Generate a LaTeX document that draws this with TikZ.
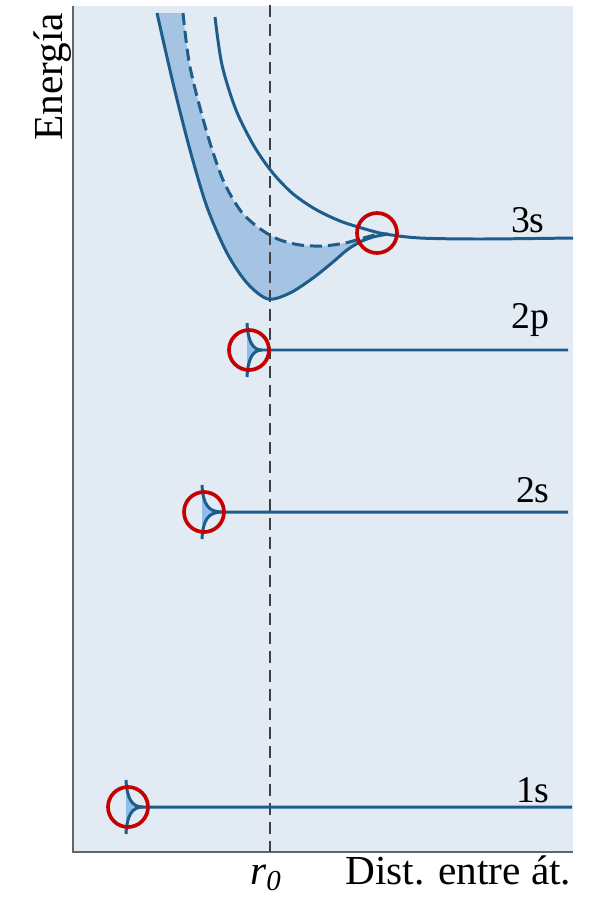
\documentclass[tikz,border=0pt]{standalone}
\usepackage{fontspec}
\setmainfont{Liberation Serif}
\usepackage{tikz}
\usepackage{xcolor}
\usetikzlibrary{positioning}
\definecolor{panelblue}{RGB}{226,234,244}
\definecolor{curveblue}{RGB}{30,92,138}
\definecolor{bandblue}{RGB}{165,196,228}
\definecolor{cuspblue}{RGB}{140,190,235}
\definecolor{ringred}{RGB}{196,0,0}
\newcommand{\lblfont}{\fontsize{21.5}{24}\selectfont}
\newcommand{\axfont}{\fontsize{23.5}{26}\selectfont}

\begin{document}
\begin{tikzpicture}[x=0.02cm, y=-0.02cm,
    curve/.style={curveblue, line width=1.7pt},
    ring/.style={ringred, line width=2.1pt},
    lab/.style={inner sep=0pt, anchor=base east, font=\lblfont}]
    \useasboundingbox (0,0) rectangle (590,900);

    % Panel and axes
    \fill[panelblue] (73,6) rectangle (573,852);
    \draw[black!60, line width=1.4pt] (73,6) -- (73,852) -- (573,852);

    % Band between bonding curve and dashed curve
    \fill[bandblue] plot[smooth] coordinates {(157,13) (173,83) (190,150) (207,207) (227,253) (247,283) (268,299) (290,293) (313,278) (333,262) (347,250) (360,242) (373,237)}
        -- plot[smooth] coordinates {(375,235) (360,239) (345,243) (323,246) (300,245) (280,240) (268,234)}
        -- plot[smooth] coordinates {(268,234) (255,225) (240,210) (223,180) (207,133) (190,67) (183,13)} -- cycle;

    % Equilibrium distance
    \draw[black!75, line width=1.1pt, dash pattern=on 0.24cm off 0.14cm] (270,5) -- (270,852);

    % Curves of the 3s level
    \draw[curve] plot[smooth] coordinates {(157,13) (173,83) (190,150) (207,207) (227,253) (247,283) (268,299) (290,293) (313,278) (333,262) (347,250) (360,242) (373,237) (388,234)};
    \draw[curve, dash pattern=on 0.24cm off 0.12cm] plot[smooth] coordinates {(183,13) (190,67) (207,133) (223,180) (240,210) (255,225) (268,234)}
        -- plot[smooth] coordinates {(268,234) (280,240) (300,245) (323,246) (345,243) (360,239) (375,235) (388,234)};
    \draw[curve] plot[smooth] coordinates {(215,17) (222,65) (236,110) (254,146) (272,172) (292,193) (315,209) (340,221) (365,229) (385,234) (420,238) (480,239) (573,238)};
    \draw[ring] (377,233) circle (0.4cm);
    \node[lab] (lev-3s) at (545,232) {3s};

    % Inner levels
    \foreach \xa/\xb/\yl/\xe/\yt/\lab in {247/262/350/568/328/2p, 202/222/512/568/502/2s, 126/143/807/572/802/1s} {
        \fill[cuspblue] (\xa,\yl-15) .. controls (\xa+3,\yl-4) and (\xa+8,\yl) .. (\xb,\yl)
            .. controls (\xa+8,\yl) and (\xa+3,\yl+4) .. (\xa,\yl+15) -- cycle;
        \draw[curve] (\xa,\yl-27) .. controls (\xa+1,\yl-8) and (\xa+6,\yl) .. (\xb,\yl) -- (\xe,\yl);
        \draw[curve] (\xa,\yl+27) .. controls (\xa+1,\yl+8) and (\xa+6,\yl) .. (\xb,\yl);
        \draw[ring] (\xa+2,\yl) circle (0.4cm);
        \node[lab] (lev-\lab) at (550,\yt) {\lab};
    }

    % Axis labels
    \node[inner sep=0pt, anchor=base, rotate=90, font=\axfont] (energia) at (62,77) {Energía};
    \node[inner sep=0pt, anchor=base west, font=\axfont] (rcero) at (250,884) {\itshape r\textsubscript{0}};
    \node[inner sep=0pt, anchor=base west, font=\axfont] (dist) at (345,884) {Dist. entre át.};
\end{tikzpicture}
\end{document}
